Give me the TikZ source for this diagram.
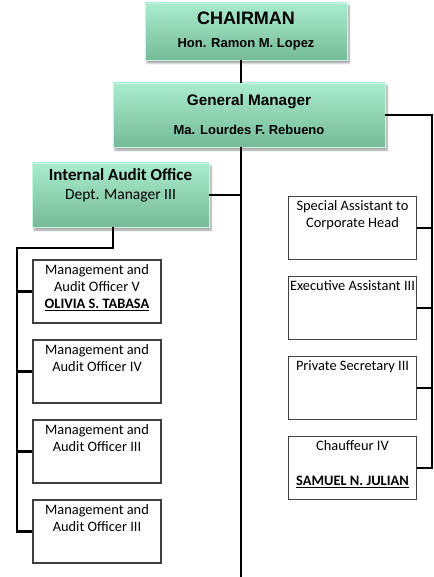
\documentclass[tikz,border=0pt]{standalone}
\usepackage{fontspec}
\setmainfont{Carlito}
\newfontfamily\arialfont{Liberation Sans}
\usetikzlibrary{shadows.blur}

\definecolor{mintlight}{RGB}{170,236,206}
\definecolor{mintdark}{RGB}{116,186,152}
\definecolor{boxgray}{RGB}{64,64,64}

\newcommand{\celltext}[1]{\parbox[t][63pt][t]{128pt}{\centering\fontsize{14.4}{17.4}\selectfont\rule{0pt}{14pt}#1\par}}

\tikzstyle{greenbox} = [rectangle, top color=mintlight, bottom color=mintdark, draw=mintlight!60!white, line width=0.6pt, align=center, blur shadow={shadow xshift=2pt, shadow yshift=-3pt, shadow blur steps=6}]
\tikzstyle{staffbox} = [rectangle, draw=boxgray, line width=1.3pt, fill=white, inner sep=0pt]
\tikzstyle{line} = [draw, line width=2.8pt]

\begin{document}
\begin{tikzpicture}[x=1pt, y=-1pt, node distance=80pt]
    \useasboundingbox (0,0) rectangle (433,577);

    \node[greenbox, minimum width=202pt, minimum height=57pt, font={\arialfont\bfseries\fontsize{13}{17}\selectfont}] (chairman) at (246,31.5) {{\fontsize{18}{18}\selectfont CHAIRMAN}\\[6pt]Hon. Ramon M. Lopez};
    \node[greenbox, minimum width=272pt, minimum height=64pt, font={\arialfont\bfseries\fontsize{13}{17}\selectfont}] (manager) at (249,115) {{\fontsize{15.3}{17}\selectfont General Manager}\\[12pt]Ma. Lourdes F. Rebueno};
    \node[greenbox, minimum width=177pt, minimum height=64pt, font={\fontsize{15.5}{18.6}\selectfont}] (audit) at (120.5,195) {{\fontsize{17}{18.6}\selectfont\bfseries Internal Audit Office}\\Dept. Manager III\rule[-22pt]{0pt}{22pt}};

    % audit staff
    \node[staffbox] (officer5) at (97,291.5) {\celltext{Management and\\Audit Officer V\\\underline{\textbf{OLIVIA S. TABASA}}}};
    \node[staffbox, below of=officer5] (officer4) {\celltext{Management and\\Audit Officer IV}};
    \node[staffbox, below of=officer4] (officer3a) {\celltext{Management and\\Audit Officer III}};
    \node[staffbox, below of=officer3a] (officer3b) {\celltext{Management and\\Audit Officer III}};

    % office of the manager
    \node[staffbox] (special) at (352.5,228) {\celltext{Special Assistant to\\Corporate Head}};
    \node[staffbox, below of=special] (executive) {\celltext{Executive Assistant III}};
    \node[staffbox, below of=executive] (secretary) {\celltext{Private Secretary III}};
    \node[staffbox, below of=secretary] (chauffeur) {\celltext{Chauffeur IV\\[17.4pt]\underline{\textbf{SAMUEL N. JULIAN}}}};

    \coordinate (spine) at (241,577);
    \coordinate (rail) at (432,115);
    \coordinate (drop) at (113,248);
    \coordinate (lrail) at (17,248);

    % lines
    \draw [line] (chairman.south -| spine) -- (manager.north -| spine);
    \draw [line] (manager.south -| spine) -- (spine);
    \draw [line] (audit.east) -- (audit.east -| spine);
    \draw [line] (manager.east) -- (rail) -- (rail |- chauffeur.east) -- (chauffeur.east);
    \draw [line] (special.east) -- (special.east -| rail);
    \draw [line] (executive.east) -- (executive.east -| rail);
    \draw [line] (secretary.east) -- (secretary.east -| rail);
    \draw [line] (drop |- audit.south) -- (drop) -- (lrail) -- (lrail |- officer3b.west) -- (officer3b.west);
    \draw [line] (officer5.west -| lrail) -- (officer5.west);
    \draw [line] (officer4.west -| lrail) -- (officer4.west);
    \draw [line] (officer3a.west -| lrail) -- (officer3a.west);
\end{tikzpicture}
\end{document}
